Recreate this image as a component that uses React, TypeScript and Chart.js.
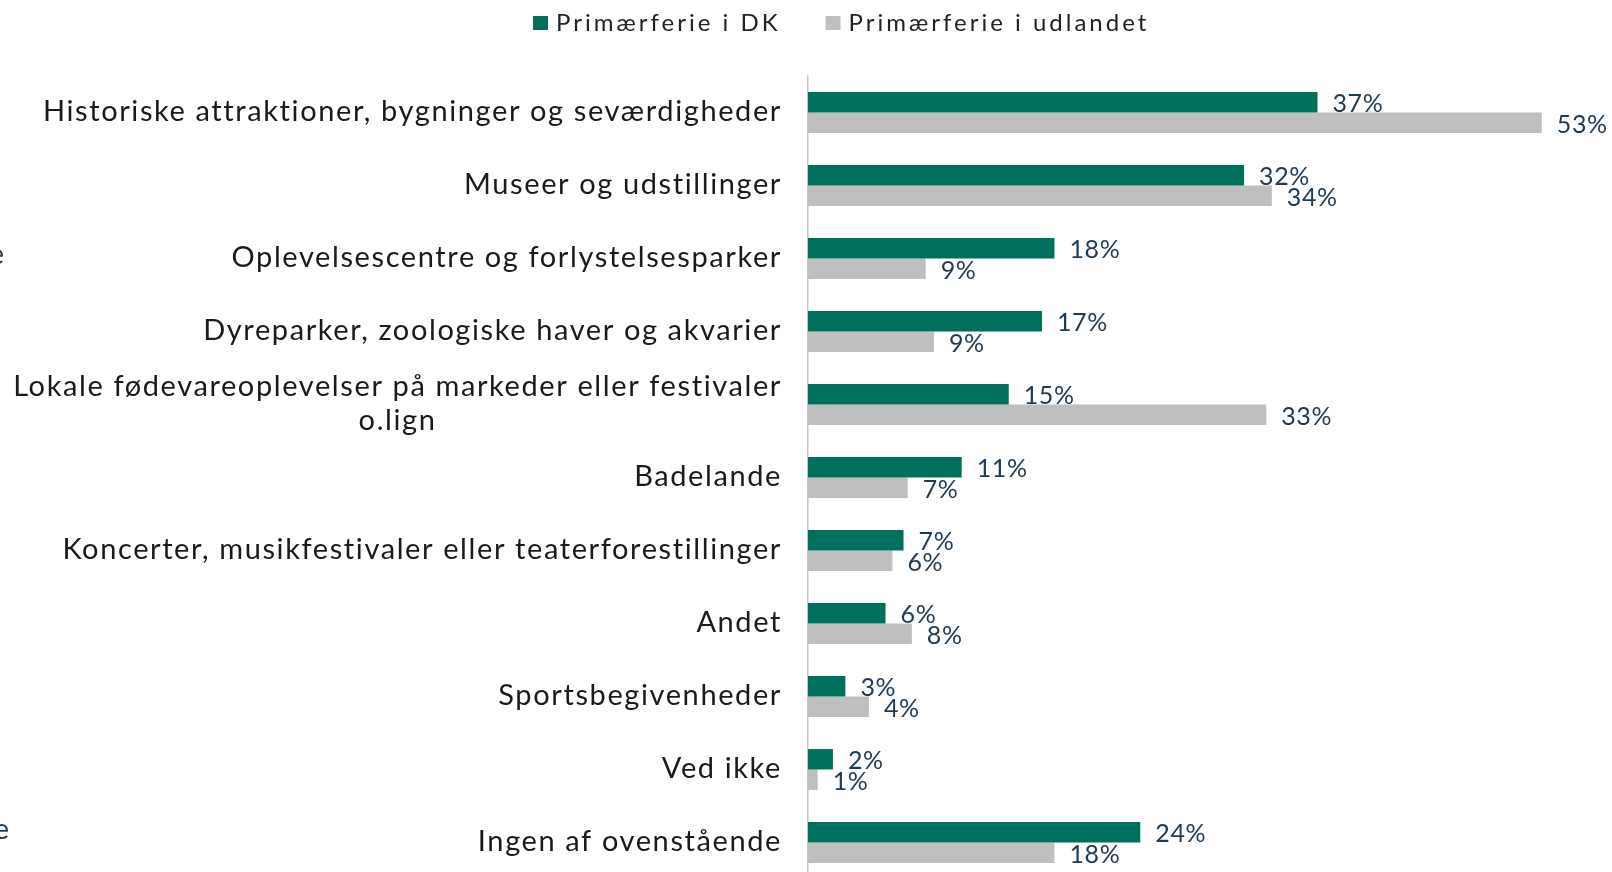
import { useEffect, useRef } from "react";
import { Chart, registerables } from "chart.js";

Chart.register(...registerables);

const categories: (string | string[])[] = [
  "Historiske attraktioner, bygninger og seværdigheder",
  "Museer og udstillinger",
  "Oplevelsescentre og forlystelsesparker",
  "Dyreparker, zoologiske haver og akvarier",
  ["Lokale fødevareoplevelser på markeder eller festivaler", "o.lign"],
  "Badelande",
  "Koncerter, musikfestivaler eller teaterforestillinger",
  "Andet",
  "Sportsbegivenheder",
  "Ved ikke",
  "Ingen af ovenstående",
];

const seriesNames = ["Primærferie i DK", "Primærferie i udlandet"];
const dkValues = [36.8, 31.5, 17.8, 16.9, 14.5, 11.1, 6.9, 5.6, 2.7, 1.8, 24.0];
const udlValues = [53.0, 33.5, 8.5, 9.1, 33.1, 7.2, 6.1, 7.5, 4.4, 0.7, 17.8];
const dkLabels = ["37%", "32%", "18%", "17%", "15%", "11%", "7%", "6%", "3%", "2%", "24%"];
const udlLabels = ["53%", "34%", "9%", "9%", "33%", "7%", "6%", "8%", "4%", "1%", "18%"];

const GREEN = "#00705C";
const GRAY = "#BFBFBF";
const FONT = "Lato";

const setSpacing = (ctx: any, px: number) => {
  if ("letterSpacing" in ctx) ctx.letterSpacing = `${px}px`;
};

const overlay = {
  id: "overlay",
  afterDatasetsDraw(chart: any) {
    const ctx = chart.ctx as CanvasRenderingContext2D;
    const yScale = chart.scales.y;
    const area = chart.chartArea;
    ctx.save();

    // category labels
    ctx.font = `29px ${FONT}`;
    setSpacing(ctx, 1.6);
    ctx.fillStyle = "#1A1A1A";
    ctx.textBaseline = "middle";
    const right = area.left - 26;
    categories.forEach((c, i) => {
      const lines = Array.isArray(c) ? c : [c];
      const cy = yScale.getPixelForValue(i);
      const lh = 34;
      const maxW = Math.max(...lines.map((l) => ctx.measureText(l).width));
      lines.forEach((l, j) => {
        const ly = cy + (j - (lines.length - 1) / 2) * lh - 1;
        if (lines.length > 1) {
          ctx.textAlign = "center";
          ctx.fillText(l, right - maxW / 2, ly);
        } else {
          ctx.textAlign = "right";
          ctx.fillText(l, right, ly);
        }
      });
    });

    // data labels
    const labelSets = [dkLabels, udlLabels];
    ctx.font = `25px ${FONT}`;
    setSpacing(ctx, 0.6);
    ctx.fillStyle = "#1F3A52";
    ctx.textAlign = "left";
    chart.data.datasets.forEach((_ds: any, di: number) => {
      const meta = chart.getDatasetMeta(di);
      meta.data.forEach((bar: any, i: number) => {
        ctx.fillText(labelSets[di][i], bar.x + 15, bar.y + 2);
      });
    });

    // legend
    ctx.font = `24px ${FONT}`;
    setSpacing(ctx, 3);
    let x = 533;
    chart.data.datasets.forEach((ds: any) => {
      ctx.fillStyle = ds.backgroundColor;
      ctx.fillRect(x, 16, 15, 14);
      ctx.fillStyle = "#222222";
      ctx.textAlign = "left";
      ctx.fillText(ds.label, x + 23, 23);
      x += 23 + ctx.measureText(ds.label).width + 45;
    });

    // clipped fragments of text from the left edge
    ctx.font = `29px ${FONT}`;
    setSpacing(ctx, 0);
    ctx.fillStyle = "#1F3A52";
    ctx.textAlign = "right";
    ctx.fillText("e", 4, 255);
    ctx.fillText("e", 9, 830);

    ctx.restore();
  },
};

export default function App() {
  const canvasRef = useRef<HTMLCanvasElement | null>(null);

  useEffect(() => {
    let chart: Chart | null = null;
    let cancelled = false;
    const make = () => {
      if (cancelled || !canvasRef.current) return;
      chart = new Chart(canvasRef.current, {
        type: "bar",
        data: {
          labels: categories as any,
          datasets: [
            { label: seriesNames[0], data: dkValues, backgroundColor: GREEN },
            { label: seriesNames[1], data: udlValues, backgroundColor: GRAY },
          ],
        },
        options: {
          indexAxis: "y",
          animation: false,
          responsive: true,
          maintainAspectRatio: false,
          layout: { padding: { top: 76, left: 0, right: 1, bottom: 0 } },
          datasets: { bar: { barPercentage: 1, categoryPercentage: 0.56 } },
          plugins: { legend: { display: false }, tooltip: { enabled: false } },
          scales: {
            x: { display: false, min: 0, max: 58 },
            y: {
              display: true,
              ticks: { display: false },
              grid: { display: false },
              border: { display: true, color: "#C4C4C4", width: 1.5 },
              afterFit: (s: any) => {
                s.width = 808;
              },
            },
          },
        },
        plugins: [overlay],
      });
    };
    const fonts: any = (document as any).fonts;
    if (fonts && fonts.load) {
      Promise.all([fonts.load(`29px ${FONT}`), fonts.load(`25px ${FONT}`)])
        .catch(() => {})
        .then(make);
    } else make();
    return () => {
      cancelled = true;
      if (chart) chart.destroy();
    };
  }, []);

  return (
    <div style={{ position: "fixed", left: 0, top: 0, width: 1612, height: 879, background: "#fff" }}>
      <canvas ref={canvasRef} />
    </div>
  );
}
